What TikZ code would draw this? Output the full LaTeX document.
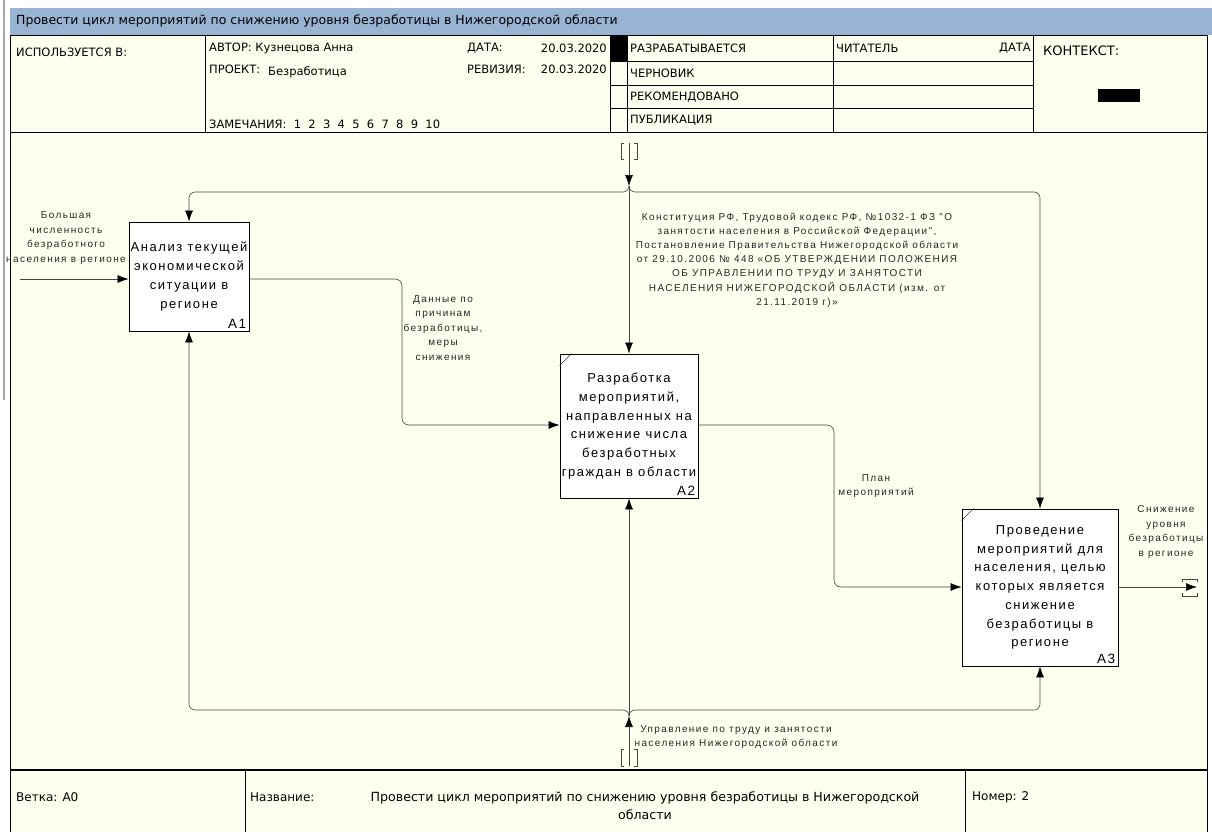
\documentclass[tikz,border=0pt]{standalone}
\usepackage{fontspec}
\setmainfont{Liberation Sans}
\newfontfamily\hdrfont{DejaVu Sans}
\newfontfamily\boxfont[LetterSpace=12]{Liberation Sans}
\newfontfamily\lblfont[LetterSpace=14]{Liberation Sans}
\usetikzlibrary{arrows.meta}

\definecolor{ivory}{RGB}{255,255,240}
\definecolor{titleblue}{RGB}{153,180,210}
\definecolor{wire}{RGB}{70,70,70}

\tikzset{
  func/.style={draw=black,fill=white,line width=0.9pt,align=center,inner sep=0pt,
    font=\boxfont\fontsize{13}{18.7}\selectfont},
  fnum/.style={anchor=south east,inner sep=3pt,font=\boxfont\fontsize{13.5}{14}\selectfont},
  lbl/.style={align=center,inner sep=0pt,text=black!85,font=\lblfont\fontsize{10}{14.5}\selectfont},
  hdr/.style={anchor=west,inner sep=0pt,font=\hdrfont\fontsize{11.5}{13}\selectfont},
  ftr/.style={anchor=west,inner sep=0pt,font=\hdrfont\fontsize{12}{18}\selectfont},
  wire/.style={draw=wire,line width=0.6pt,rounded corners=7pt},
  arr/.style={-{Latex[length=11pt,width=8pt,color=black]}},
  tunnel/.style={draw=wire,line width=0.6pt}
}

\begin{document}
\begin{tikzpicture}[x=1pt,y=-1pt]
  \useasboundingbox (0,0) rectangle (1212,832);
  \fill[white] (0,0) rectangle (1212,832);
  \draw[gray!70,line width=1.5pt] (4,0) -- (4,400);
  % title bar
  \fill[titleblue] (10,8) rectangle (1212,35);
  \node[hdr,font=\hdrfont\fontsize{12.5}{14}\selectfont] (title) at (16,21) {Провести цикл мероприятий по снижению уровня безработицы в Нижегородской области};
  \filldraw[fill=ivory,draw=black,line width=0.8pt] (10,35) rectangle (1207,850);

  % header grid
  \draw[line width=0.8pt] (10,132) -- (1207,132);
  \draw[line width=1.2pt] (10,770) -- (1207,770);
  \foreach \xx in {205,610,627,833,1033} \draw (\xx,35) -- (\xx,132);
  \foreach \yy in {61,85,108} \draw (610,\yy) -- (1033,\yy);
  \fill (610,35) rectangle (627,61);
  \fill (1098,89) rectangle (1140,102);

  \node[hdr] (usedin) at (16,52) {ИСПОЛЬЗУЕТСЯ В:};
  \node[hdr] (author) at (209,48) {АВТОР: Кузнецова Анна};
  \node[hdr] (date) at (467,48) {ДАТА:};
  \node[hdr,anchor=east] (dateval) at (607,48) {20.03.2020};
  \node[hdr] (project) at (209,69) {ПРОЕКТ:};
  \node[hdr] (projval) at (268,72) {Безработица};
  \node[hdr] (rev) at (467,69) {РЕВИЗИЯ:};
  \node[hdr,anchor=east] (revval) at (607,69) {20.03.2020};
  \node[hdr] (notes) at (209,124) {ЗАМЕЧАНИЯ:\ \ 1\ \ 2\ \ 3\ \ 4\ \ 5\ \ 6\ \ 7\ \ 8\ \ 9\ \ 10};
  \node[hdr] (st1) at (630,48) {РАЗРАБАТЫВАЕТСЯ};
  \node[hdr] (st2) at (630,73) {ЧЕРНОВИК};
  \node[hdr] (st3) at (630,97) {РЕКОМЕНДОВАНО};
  \node[hdr] (st4) at (630,120) {ПУБЛИКАЦИЯ};
  \node[hdr] (reader) at (836,48) {ЧИТАТЕЛЬ};
  \node[hdr,anchor=east] (rdate) at (1031,48) {ДАТА};
  \node[hdr,font=\hdrfont\fontsize{13}{14}\selectfont] (context) at (1043,51) {КОНТЕКСТ:};

  % footer
  \draw (245,770) -- (245,832);
  \draw (965,770) -- (965,832);
  \node[ftr] (node) at (16,797) {Ветка: A0};
  \node[ftr] (name) at (250,797) {Название:};
  \node[ftr,anchor=center,align=center,font=\hdrfont\fontsize{12.6}{18}\selectfont] (nameval) at (645,806)
    {Провести цикл мероприятий по снижению уровня безработицы в Нижегородской\\области};
  \node[ftr] (number) at (972,797) {Номер: 2};

  % functions
  \node[func,minimum width=120pt,minimum height=109pt] (a1) at (189,276.5)
    {Анализ текущей\\экономической\\ситуации в\\регионе};
  \node[fnum] (a1n) at (a1.south east) {A1};
  \node[func,minimum width=138pt,minimum height=144pt] (a2) at (629,426)
    {Разработка\\мероприятий,\\направленных на\\снижение числа\\безработных\\граждан в области};
  \node[fnum] (a2n) at (a2.south east) {A2};
  \draw ([yshift=-12pt]a2.north west) -- ([xshift=12pt]a2.north west);
  \node[func,minimum width=156pt,minimum height=157pt] (a3) at (1040,587.5)
    {Проведение\\мероприятий для\\населения, целью\\которых является\\снижение\\безработицы в\\регионе};
  \node[fnum] (a3n) at (a3.south east) {A3};
  \draw ([yshift=-12pt]a3.north west) -- ([xshift=12pt]a3.north west);

  % input
  \coordinate (in1) at (20,279);
  \draw[wire,arr] (in1) -- (in1 -| a1.west);
  \node[lbl] (in1lbl) at (66,238) {Большая\\численность\\безработного\\населения в регионе};

  % control
  \coordinate (ctop) at (629,143);
  \coordinate (cjoin) at (629,186);
  \coordinate (cbar) at (629,192);
  \draw[tunnel] (624,143) -- (621,143) -- (621,159) -- (624,159);
  \draw[tunnel] (634,143) -- (637,143) -- (637,159) -- (634,159);
  \draw[wire,arr] (ctop) -- (cjoin);
  \draw[wire,arr] (cjoin) -- (a2.north);
  \draw[wire,arr,rounded corners=6pt] (cjoin) |- (cbar -| a1.north) -- (a1.north);
  \draw[wire,arr,rounded corners=6pt] (cjoin) |- (cbar -| a3.north) -- (a3.north);
  \node[lbl,font=\lblfont\fontsize{10}{14.2}\selectfont] (ctrllbl) at (797,260) {Конституция РФ, Трудовой кодекс РФ, №1032-1 ФЗ "О\\занятости населения в Российской Федерации",\\Постановление Правительства Нижегородской области\\от 29.10.2006 № 448 «ОБ УТВЕРЖДЕНИИ ПОЛОЖЕНИЯ\\ОБ УПРАВЛЕНИИ ПО ТРУДУ И ЗАНЯТОСТИ\\НАСЕЛЕНИЯ НИЖЕГОРОДСКОЙ ОБЛАСТИ (изм. от\\21.11.2019 г)»};

  % mechanism
  \coordinate (mbot) at (629,766);
  \coordinate (mjoin) at (629,716);
  \coordinate (mbar) at (629,710);
  \draw[tunnel] (624,749) -- (621,749) -- (621,766) -- (624,766);
  \draw[tunnel] (634,749) -- (637,749) -- (637,766) -- (634,766);
  \draw[wire,arr] (mbot) -- (mjoin);
  \draw[wire,arr] (mjoin) -- (a2.south);
  \draw[wire,arr,rounded corners=6pt] (mjoin) |- (mbar -| a1.south) -- (a1.south);
  \draw[wire,arr,rounded corners=6pt] (mjoin) |- (mbar -| a3.south) -- (a3.south);
  \node[lbl] (mechlbl) at (736,737) {Управление по труду и занятости\\населения Нижегородской области};

  % outputs
  \coordinate (o1) at (402,425);
  \draw[wire,arr] (a1.east |- in1) -| (o1) -- (o1 -| a2.west);
  \node[lbl] (o1lbl) at (443,328) {Данные по\\причинам\\безработицы,\\меры\\снижения};
  \coordinate (o2) at (834,587);
  \draw[wire,arr] (a2.east |- o1) -| (o2) -- (o2 -| a3.west);
  \node[lbl] (o2lbl) at (876,486) {План\\мероприятий};
  \coordinate (out3) at (1197,587);
  \draw[wire,arr] (a3.east |- out3) -- (out3);
  \draw[tunnel] (1182,582) -- (1182,579) -- (1197,579) -- (1197,582);
  \draw[tunnel] (1182,593) -- (1182,596) -- (1197,596) -- (1197,593);
  \node[lbl] (o3lbl) at (1166,532) {Снижение\\уровня\\безработицы\\в регионе};
\end{tikzpicture}
\end{document}
